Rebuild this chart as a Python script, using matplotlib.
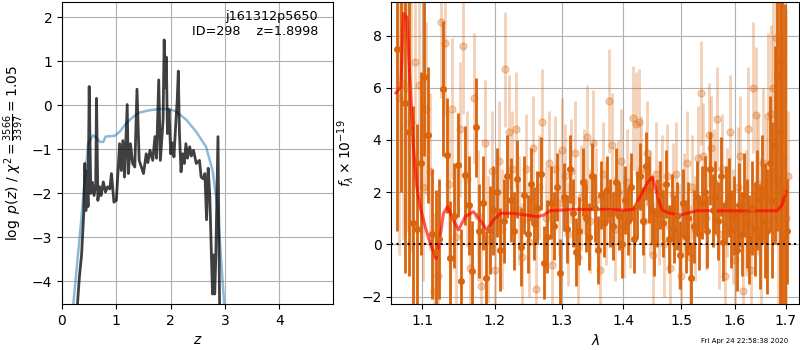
import numpy as np
import matplotlib
matplotlib.use("Agg")
import matplotlib.pyplot as plt
from matplotlib.ticker import NullLocator

# ---- left panel: log p(z) and prior ----
z_pz = [0.20, 0.28, 0.32, 0.36, 0.40, 0.42, 0.44, 0.46, 0.48, 0.50, 0.53, 0.56,
        0.59, 0.62, 0.635, 0.66, 0.69, 0.72, 0.76, 0.80, 0.84, 0.88, 0.91, 0.955,
        1.00, 1.06, 1.09, 1.12, 1.15, 1.20, 1.22, 1.26, 1.30, 1.34, 1.38, 1.42,
        1.46, 1.50, 1.55, 1.58, 1.62, 1.67, 1.71, 1.74, 1.78, 1.81, 1.86, 1.88,
        1.90, 1.92, 1.94, 1.97, 2.00, 2.03, 2.06, 2.09, 2.12, 2.14, 2.16, 2.19,
        2.22, 2.25, 2.28, 2.31, 2.35, 2.38, 2.42, 2.47, 2.53, 2.56, 2.60, 2.63,
        2.66, 2.69, 2.72, 2.75, 2.77, 2.79, 2.81, 2.83, 2.87, 2.90, 2.95]
logpz = [-7.0, -4.6, -3.9, -3.4, -2.46, -1.32, -2.39, -1.5, -2.3, 0.43, -2.0, -1.75,
         -2.05, -1.8, 0.16, -2.16, -1.85, -2.05, -1.74, -1.97, -1.85, -1.9, -1.55, -2.2,
         -2.16, -0.87, -1.48, -0.8, -1.63, 0.02, -1.55, -0.87, -1.32, -1.4, 0.37, -1.25,
         -1.4, -1.55, -1.1, -1.3, -1.02, -1.25, -0.71, -1.2, 0.58, -1.25, -0.33, 1.49,
         0.4, 1.1, -0.64, -0.1, -1.1, -0.85, -1.17, -0.49, 0.12, 0.78, -0.6, -1.51,
         -1.1, -1.32, -0.87, -1.2, -0.94, -1.15, -1.02, -1.32, -1.25, -1.63, -1.67, -1.55,
         -2.6, -1.43, -2.08, -3.45, -4.29, -3.4, -4.29, -3.45, -0.71, -4.6, -7.0]

z_prior = [0.15, 0.21, 0.33, 0.42, 0.48, 0.57, 0.63, 0.70, 0.76, 0.80, 0.88, 0.97,
           1.06, 1.18, 1.31, 1.43, 1.61, 1.80, 1.98, 2.10, 2.29, 2.47, 2.65, 2.77,
           2.86, 2.92, 2.98, 3.05]
logprior = [-6.0, -4.5, -2.92, -1.7, -0.87, -0.68, -0.73, -0.83, -0.83, -0.71, -0.70, -0.69,
            -0.60, -0.41, -0.26, -0.16, -0.11, -0.08, -0.08, -0.14, -0.33, -0.60, -0.94, -1.48,
            -2.30, -3.37, -4.44, -6.0]

# ---- right panel: spectrum (two extractions) and model ----
wave_a = np.linspace(1.068, 1.703, 128)
flux_a = [7.5, 9.5, 5.4, 4.3, 0.8, 0.6, 3.1, 6.4,
          4.2, 0.4, -0.3, 0.2, 5.97, 3.42, -0.54, 1.1,
          3.04, -1.4, 2.65, 1.5, -1.02, 4.48, 0.5, 1.6,
          -1.3, 0.55, 1.3, 2.0, -0.2, 0.9, 2.6, 1.7,
          0.5, 2.5, -0.1, 1.9, 0.4, 2.3, 0.8, 1.4,
          2.7, -0.7, 0.3, 1.6, 0.7, 2.2, -1.1, 1.8,
          0.6, 2.9, 1.2, -0.3, 0.5, 2.4, 1.0, 0.3,
          2.6, 1.4, -0.2, 1.9, 0.8, 2.1, 1.2, 0.7,
          2.4, 1.1, 0.0, 1.7, 0.9, 2.2, 0.2, 1.5,
          2.6, 0.9, 3.0, 2.1, 1.3, 0.1, 1.2, 1.9,
          0.8, 2.3, 0.2, 1.4, 0.6, 1.1, -0.4, 1.6,
          0.3, 1.0, -1.3, 0.7, 1.8, 0.4, 1.6, 2.0,
          0.5, 2.9, 1.3, 1.8, 0.9, 2.6, 0.1, 1.5,
          1.8, 0.6, 1.1, -0.2, 1.5, 0.4, 1.9, 0.8,
          0.2, 1.4, 0.6, 1.7, 0.3, 2.1, 0.9, 0.5,
          3.1, 1.7, 3.8, 6.5, 4.3, 2.0, 0.2, 0.5]
err_a = [7.0, 7.5, 6.5, 5.5, 4.5, 4.0, 3.5, 3.0,
         2.6, 2.5, 2.4, 2.3, 2.6, 2.2, 2.2, 2.0,
         2.0, 2.0, 1.9, 1.9, 1.9, 1.9, 1.8, 1.8,
         1.8, 1.7, 1.7, 1.7, 1.6, 1.6, 1.6, 1.6,
         1.5, 1.5, 1.5, 1.5, 1.5, 1.4, 1.4, 1.4,
         1.4, 1.4, 1.4, 1.4, 1.3, 1.3, 1.3, 1.3,
         1.3, 1.3, 1.3, 1.3, 1.3, 1.3, 1.3, 1.3,
         1.3, 1.3, 1.3, 1.3, 1.3, 1.3, 1.3, 1.3,
         1.3, 1.3, 1.3, 1.3, 1.3, 1.3, 1.3, 1.3,
         1.3, 1.3, 1.3, 1.3, 1.3, 1.3, 1.3, 1.3,
         1.3, 1.3, 1.3, 1.3, 1.3, 1.3, 1.3, 1.3,
         1.4, 1.4, 1.4, 1.4, 1.4, 1.4, 1.4, 1.4,
         1.4, 1.4, 1.4, 1.4, 1.5, 1.5, 1.5, 1.5,
         1.5, 1.5, 1.5, 1.6, 1.6, 1.6, 1.6, 1.7,
         1.7, 1.8, 1.8, 1.9, 2.0, 2.1, 2.2, 2.4,
         2.6, 3.0, 3.8, 6.0, 8.0, 9.0, 9.0, 2.0]

wave_b = np.linspace(1.0705, 1.7055, 128)
flux_b = [5.6, 6.2, 6.0, 4.7, 7.0, 6.1, 2.2, 5.2,
          2.8, -1.8, -1.2, 8.5, 7.7, 2.3, 5.2, 0.3,
          4.4, 7.6, 2.5, -0.9, 5.6, 1.1, -1.6, 3.9,
          0.2, 2.8, -1.0, 3.2, 0.6, 6.7, 4.3, 2.9,
          4.4, 1.3, -0.5, 2.9, 0.1, 3.7, -1.7, 2.2,
          4.7, 1.0, 3.1, -0.8, 2.9, 1.6, 3.6, 2.6,
          0.4, 2.8, 3.5, -0.5, 1.8, 2.4, 4.1, 0.9,
          3.9, 1.7, -1.0, 2.7, 1.2, 5.5, 3.8, 0.6,
          2.0, 3.2, 0.7, 2.4, 1.1, 4.85, 4.6, 4.7,
          2.9, 0.9, 3.5, 1.6, -0.4, 2.7, 1.2, 2.2,
          0.0, 2.6, -0.9, 1.9, 2.7, 0.3, -1.2, 1.5,
          3.1, -0.5, 2.2, 0.6, 3.3, 5.8, 3.4, 1.0,
          4.2, 3.7, 2.4, 4.8, 0.4, 2.9, -1.2, 1.6,
          4.3, 0.7, -0.6, 2.2, 3.4, -1.8, 1.2, 4.4,
          -1.0, 6.0, 4.95, 2.3, 0.5, 3.1, 1.8, 4.9,
          5.0, 6.0, 7.9, 2.4, 7.0, 3.3, 1.0, 2.6]
err_b = [6.0, 6.0, 5.5, 5.0, 4.5, 4.0, 3.6, 3.3,
         3.0, 3.0, 2.9, 2.9, 2.8, 2.8, 2.7, 2.7,
         2.6, 2.6, 2.6, 2.5, 2.5, 2.5, 2.4, 2.4,
         2.4, 2.3, 2.3, 2.3, 2.3, 2.2, 2.2, 2.2,
         2.2, 2.1, 2.1, 2.1, 2.1, 2.0, 2.0, 2.0,
         2.0, 2.0, 2.0, 2.0, 2.0, 2.0, 2.0, 2.0,
         2.0, 2.0, 2.0, 2.0, 2.0, 2.0, 2.0, 2.0,
         2.0, 2.0, 2.0, 2.0, 2.0, 2.0, 2.0, 2.0,
         2.0, 2.0, 2.0, 2.0, 2.0, 2.0, 2.0, 2.0,
         2.0, 2.0, 2.0, 2.0, 2.0, 2.0, 2.0, 2.0,
         2.0, 2.0, 2.0, 2.0, 2.0, 2.0, 2.0, 2.0,
         2.0, 2.0, 2.0, 2.0, 2.0, 2.0, 2.0, 2.0,
         2.0, 2.0, 2.0, 2.0, 2.1, 2.1, 2.1, 2.1,
         2.2, 2.2, 2.2, 2.3, 2.3, 2.3, 2.4, 2.4,
         2.5, 2.5, 2.6, 2.7, 2.8, 2.9, 3.0, 3.2,
         3.4, 3.8, 4.5, 5.5, 7.0, 8.0, 8.0, 2.5]

wave_model = [1.066, 1.0723, 1.0757, 1.080, 1.0843, 1.0886, 1.093, 1.0974, 1.104,
              1.1106, 1.1186, 1.124, 1.1285, 1.1339, 1.1421, 1.1489, 1.1583, 1.1698,
              1.1792, 1.1886, 1.1982, 1.2078, 1.2272, 1.2470, 1.2621, 1.2722, 1.2824,
              1.3186, 1.3506, 1.3724, 1.4001, 1.4170, 1.4312, 1.4398, 1.4496, 1.4572,
              1.4659, 1.4806, 1.4985, 1.5106, 1.5288, 1.5473, 1.6108, 1.6826, 1.6927,
              1.7008]
flux_model = [5.8, 6.03, 8.84, 8.7, 6.16, 3.74, 2.2, 1.44, 0.68,
              0.04, -0.54, 0.29, 1.19, 1.44, 0.93, 0.55, 1.06, 1.25,
              0.93, 0.55, 0.93, 1.19, 1.19, 1.12, 1.06, 1.12, 1.29,
              1.34, 1.34, 1.34, 1.31, 1.34, 1.95, 2.33, 2.59, 1.95,
              1.31, 1.19, 1.12, 1.19, 1.29, 1.29, 1.28, 1.29, 1.5,
              2.02]

wave_ticks = [1.1, 1.2, 1.3, 1.4, 1.5, 1.6, 1.7]
timestamp = "Fri Apr 24 22:58:38 2020"

orange = "#d9650e"

fig = plt.figure(figsize=(8, 3.5), dpi=100)

# left: redshift PDF
ax1 = fig.add_axes([0.0775, 0.131, 0.339, 0.863])
ax1.plot(z_prior, logprior, color="tab:blue", alpha=0.5, lw=1.8)
ax1.plot(z_pz, logpz, color="k", alpha=0.75, lw=2)
ax1.set_xlim(0, 4.99)
ax1.set_ylim(-4.52, 2.35)
ax1.set_xticks([0, 1, 2, 3, 4])
ax1.set_xlabel("$z$")
ax1.set_ylabel(r"$\log\ p(z)$ / $\chi^2=\frac{3566}{3397}=1.05$")
ax1.text(0.945, 0.975, "j161312p5650\nID=298    z=1.8998", transform=ax1.transAxes,
         ha="right", va="top", fontsize=9.2)
ax1.grid()

# right: spectrum
ax2 = fig.add_axes([0.489, 0.131, 0.51, 0.863])
ax2.errorbar(wave_b, flux_b, yerr=err_b, color=orange, alpha=0.3, marker="o",
             ms=5, linestyle="None", elinewidth=2, capsize=0)
ax2.errorbar(wave_a, flux_a, yerr=err_a, color=orange, marker="o", ms=4,
             linestyle="None", elinewidth=2, capsize=0)
ax2.plot(wave_model, flux_model, color="r", alpha=0.65, lw=2.2)
ax2.axhline(0, color="k", linestyle=":", lw=1.5)
ax2.set_xscale("log")
ax2.set_xlim(1.060, 1.728)
ax2.set_ylim(-2.29, 9.28)
ax2.set_xticks(wave_ticks)
ax2.set_xticklabels([f"{w:.1f}" for w in wave_ticks])
ax2.xaxis.set_minor_locator(NullLocator())
ax2.set_yticks([-2, 0, 2, 4, 6, 8])
ax2.set_xlabel(r"$\lambda$")
ax2.set_ylabel(r"$f_\lambda\times10^{-19}$")
ax2.grid()

fig.text(0.985, 0.025, timestamp, ha="right", va="center", fontsize=5)

fig.savefig("out.png", dpi=100)
